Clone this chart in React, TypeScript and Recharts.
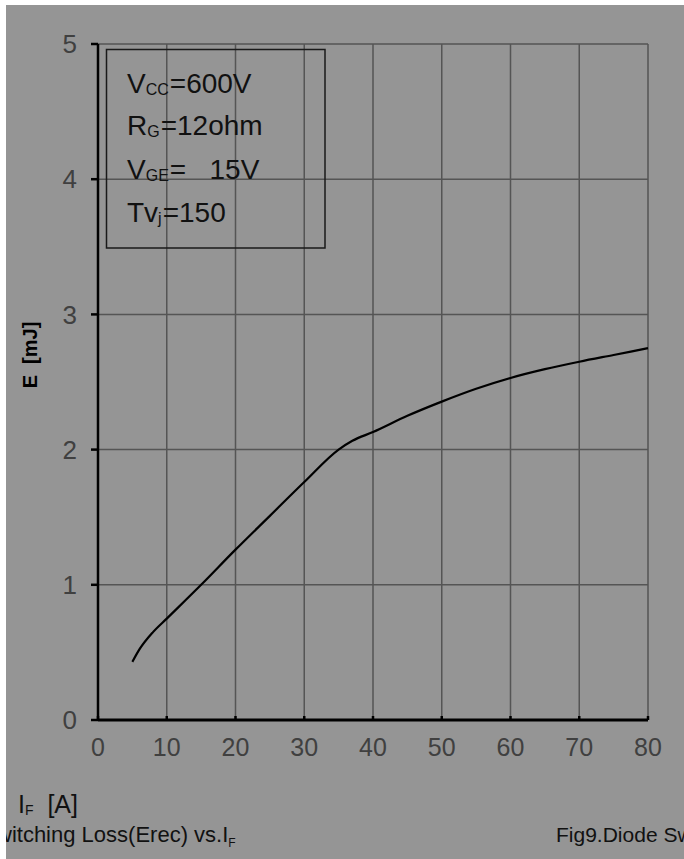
import React from "react";
import { CartesianGrid, Line, LineChart, XAxis, YAxis } from "recharts";

// Diode reverse recovery loss vs forward current
const currentA = [5, 6, 8, 10, 15, 20, 25, 30, 35, 37, 40, 45, 50, 55, 60, 65, 70, 75, 80];
const erecMJ = [0.43, 0.52, 0.65, 0.75, 1.0, 1.26, 1.51, 1.76, 2.0, 2.065, 2.13, 2.25, 2.355, 2.45, 2.53, 2.595, 2.65, 2.7, 2.75];

const xTicks = [0, 10, 20, 30, 40, 50, 60, 70, 80];
const yTicks = [0, 1, 2, 3, 4, 5];

const data = currentA.map((x, i) => ({ x, e: erecMJ[i] }));

const BG = "#959595";
const GRID = "#555555";
const TICK_FILL = "#404040";
const FONT = "'Liberation Sans', Arial, sans-serif";

function BottomTick({ x, y, payload }: any) {
  return (
    <g>
      <line x1={x} y1={y} x2={x} y2={y - 4} stroke="#000" strokeWidth={2.5} />
      <text x={x} y={y + 36} textAnchor="middle" fontSize={25} fill={TICK_FILL} fontFamily={FONT}>
        {payload.value}
      </text>
    </g>
  );
}

function Annotations() {
  return (
    <svg
      width={684}
      height={859}
      style={{ position: "absolute", left: 0, top: 0, pointerEvents: "none" }}
      fontFamily={FONT}
    >
      <rect x={106.5} y={49.5} width={218.5} height={198.5} fill="none" stroke="#1a1a1a" strokeWidth={1.5} />
      <g fontSize={28} fill="#111">
        <text x={127} y={93}>
          V<tspan fontSize={16} dy={2}>CC</tspan>
          <tspan dy={-2} dx={1}>=600V</tspan>
        </text>
        <text x={127} y={135}>
          R<tspan fontSize={16} dy={2}>G</tspan>
          <tspan dy={-2} dx={1}>=12ohm</tspan>
        </text>
        <text x={127} y={179} style={{ whiteSpace: "pre" }}>
          V<tspan fontSize={16} dy={2}>GE</tspan>
          <tspan dy={-2} dx={1}>{"=   15V"}</tspan>
        </text>
        <text x={127} y={222}>
          Tv<tspan fontSize={16} dy={2}>j</tspan>
          <tspan dy={-2} dx={1}>=150</tspan>
        </text>
      </g>
      <text
        x={30}
        y={355}
        transform="rotate(-90 30 355)"
        textAnchor="middle"
        dominantBaseline="central"
        fontSize={20}
        fontWeight="bold"
        fill="#000"
        style={{ whiteSpace: "pre" }}
      >
        {"E  [mJ]"}
      </text>
      <text x={18} y={813} fontSize={25} fill="#111" style={{ whiteSpace: "pre" }}>
        I<tspan fontSize={14} dy={2}>F</tspan>
        <tspan dy={-2}>{"  [A]"}</tspan>
      </text>
    </svg>
  );
}

export default function App() {
  return (
    <div style={{ position: "absolute", left: 0, top: 0, width: 684, height: 859, background: "#fff" }}>
      <div
        style={{
          position: "absolute",
          left: 6,
          top: 5,
          width: 678,
          height: 854,
          background: BG,
          overflow: "hidden",
        }}
      >
        <div style={{ position: "absolute", left: -6, top: -5, width: 684, height: 859 }}>
          <LineChart width={684} height={859} data={data} margin={{ top: 44, right: 36, left: 0, bottom: 0 }}>
            <CartesianGrid stroke={GRID} strokeWidth={1.5} />
            <XAxis
              type="number"
              dataKey="x"
              domain={[0, 80]}
              ticks={xTicks}
              height={139}
              tickSize={0}
              tickMargin={0}
              tickLine={false}
              axisLine={{ stroke: "#000", strokeWidth: 3 }}
              tick={<BottomTick />}
              interval={0}
            />
            <YAxis
              type="number"
              domain={[0, 5]}
              ticks={yTicks}
              width={98}
              tickSize={7}
              tickMargin={14}
              axisLine={{ stroke: "#000", strokeWidth: 2.5 }}
              tickLine={{ stroke: "#000", strokeWidth: 2.5 }}
              tick={{ fontSize: 26, fill: TICK_FILL, fontFamily: FONT }}
              interval={0}
            />
            <Line
              type="monotone"
              dataKey="e"
              stroke="#000"
              strokeWidth={2.2}
              dot={false}
              isAnimationActive={false}
            />
          </LineChart>
          <Annotations />
          <div
            style={{
              position: "absolute",
              left: -4,
              top: 822,
              fontFamily: FONT,
              fontSize: 22,
              color: "#111",
              whiteSpace: "nowrap",
              lineHeight: "26px",
            }}
          >
            witching Loss(Erec) vs.I<sub style={{ fontSize: 12 }}>F</sub>
          </div>
          <div
            style={{
              position: "absolute",
              left: 556,
              top: 822,
              fontFamily: FONT,
              fontSize: 21,
              color: "#111",
              whiteSpace: "nowrap",
              lineHeight: "26px",
            }}
          >
            Fig9.Diode Switching
          </div>
        </div>
      </div>
    </div>
  );
}
